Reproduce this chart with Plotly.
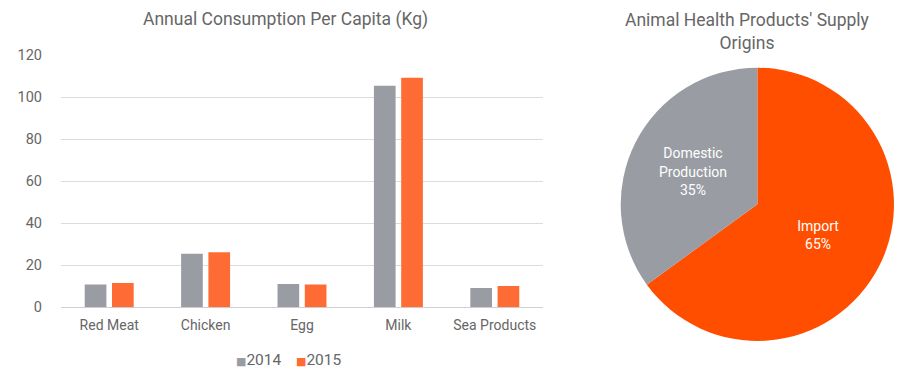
import plotly.graph_objects as go

categories = ["Red Meat", "Chicken", "Egg", "Milk", "Sea Products"]
values_2014 = [10.9, 25.5, 11.1, 105.5, 9.2]
values_2015 = [11.6, 26.2, 10.8, 109.3, 10.1]
y_ticks = [0, 20, 40, 60, 80, 100, 120]
series_names = ["2014", "2015"]

pie_labels = ["Import", "Domestic<br>Production"]
pie_values = [65, 35]

bar_title = "Annual Consumption Per Capita (Kg)"
pie_title = "Animal Health Products' Supply<br>Origins"

GRAY = "#999ca2"
ORANGE_BAR = "#ff6b35"
ORANGE_PIE = "#ff4e00"
TEXT = "#666666"
FONT = "Roboto"
series_colors = [GRAY, ORANGE_BAR]
legend_x_px = [235, 295]

fig = go.Figure()
for name, vals, col in zip(series_names, [values_2014, values_2015], series_colors):
    fig.add_trace(go.Bar(x=categories, y=vals, name=name, showlegend=False,
                         marker=dict(color=col, line=dict(width=0))))
fig.add_trace(go.Pie(labels=pie_labels, values=pie_values, sort=False,
                     direction="clockwise", rotation=0,
                     marker=dict(colors=[ORANGE_PIE, GRAY], line=dict(width=0)),
                     texttemplate="%{label}<br>%{percent:.0%}",
                     textposition="inside", insidetextorientation="horizontal",
                     textfont=dict(family=FONT, size=14, color="white"),
                     hoverinfo="label+percent", showlegend=False,
                     domain=dict(x=[0.6897, 0.9933], y=[0.1279, 0.8269])))

annotations = [
    dict(text=bar_title, x=285 / 900, y=1 - 20 / 391, xref="paper", yref="paper",
         xanchor="center", yanchor="middle", showarrow=False,
         font=dict(size=17.5, color=TEXT, family=FONT)),
    dict(text=pie_title, x=747 / 900, y=1 - 31 / 391, xref="paper", yref="paper",
         xanchor="center", yanchor="middle", showarrow=False,
         font=dict(size=17.5, color=TEXT, family=FONT)),
]
# legend entries built from series names/colours
for name, col, px in zip(series_names, series_colors, legend_x_px):
    annotations.append(dict(
        text=f"<span style='color:{col};font-size:11px;font-family:DejaVu Sans'>\u25a0</span>{name}",
        x=px / 900, y=1 - 360 / 391, xref="paper", yref="paper",
        xanchor="left", yanchor="middle", showarrow=False, borderpad=0,
        font=dict(size=15.5, color=TEXT, family=FONT)))

fig.update_layout(
    width=900, height=391,
    margin=dict(l=0, r=0, t=0, b=0, autoexpand=False),
    paper_bgcolor="white", plot_bgcolor="white",
    font=dict(family=FONT, color=TEXT, size=14),
    barmode="group", bargap=0.434, bargroupgap=0.205,
    showlegend=False,
    xaxis=dict(domain=[61 / 900, 543 / 900], showgrid=False, showline=False, automargin=False,
               tickfont=dict(size=14, color=TEXT), ticks="", ticklabelstandoff=8,
               fixedrange=True),
    yaxis=dict(domain=[1 - 307.3 / 391, 1 - 55.3 / 391], range=[0, 120], tickvals=y_ticks,
               automargin=False, showgrid=True, gridcolor="#dcdcdc", gridwidth=1,
               zeroline=True, zerolinecolor="#d0d0d0", zerolinewidth=1,
               showline=False, ticks="", ticklabelstandoff=18,
               tickfont=dict(size=14.5, color=TEXT)),
    annotations=annotations,
)

fig.write_html("out.html", config={"displayModeBar": False},
               post_script="document.body.style.margin='0';")
